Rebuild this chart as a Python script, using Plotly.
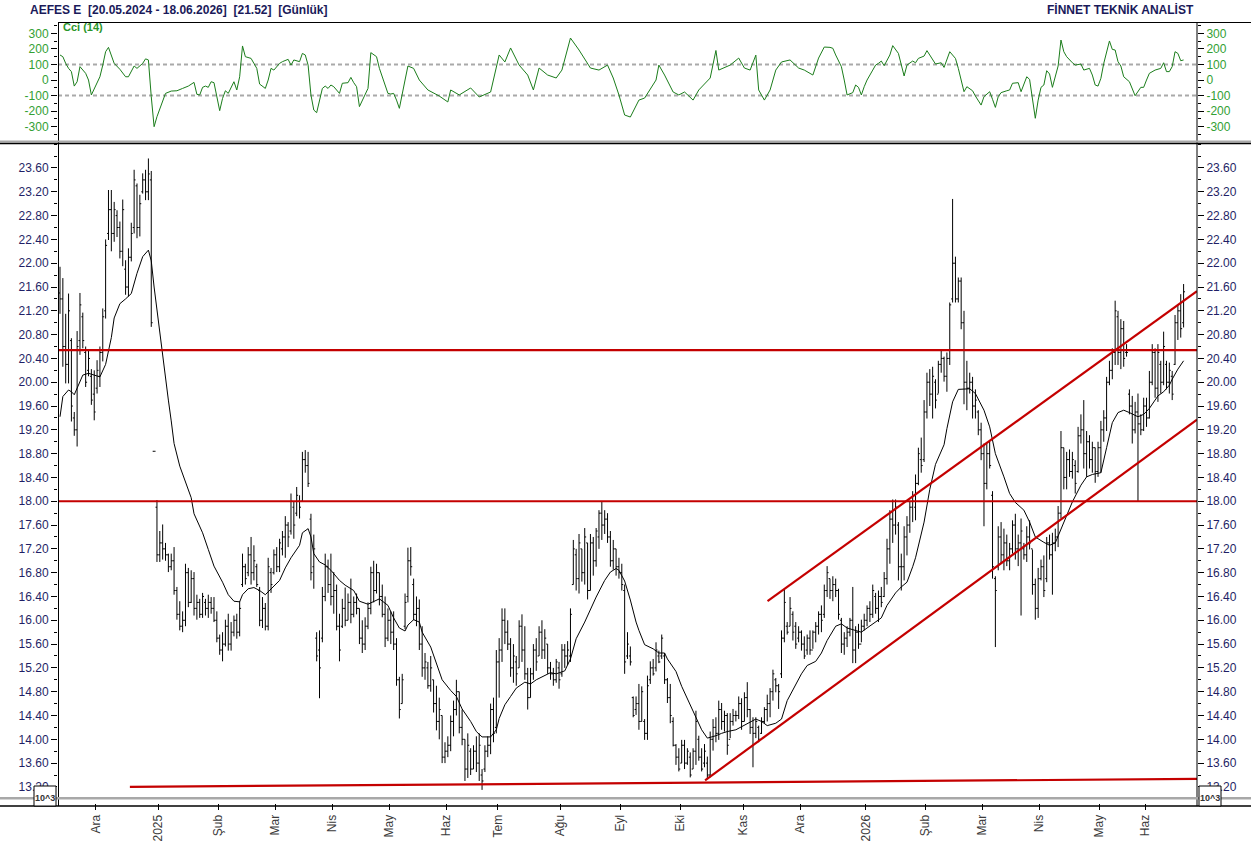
import plotly.graph_objects as go

# ------------------------------------------------------------------ data
title_left = "AEFES E\u00a0\u00a0[20.05.2024 - 18.06.2026]\u00a0\u00a0[21.52]\u00a0\u00a0[Günlük]"
title_right = "FİNNET TEKNİK ANALİST"
cci_label = "Cci (14)"

month_labels = ["Ara", "2025", "Şub", "Mar", "Nis", "May", "Haz", "Tem", "Ağu", "Eyl",
                "Eki", "Kas", "Ara", "2026", "Şub", "Mar", "Nis", "May", "Haz"]
# index of the first session of each month
month_start_bar = [13, 35, 56, 76, 96, 116, 136, 154, 176, 197,
                   218, 240, 260, 283, 304, 324, 344, 365, 381]

price_ticks = [13.20, 13.60, 14.00, 14.40, 14.80, 15.20, 15.60, 16.00, 16.40, 16.80,
               17.20, 17.60, 18.00, 18.40, 18.80, 19.20, 19.60, 20.00, 20.40, 20.80,
               21.20, 21.60, 22.00, 22.40, 22.80, 23.20, 23.60]
cci_ticks = [-300, -200, -100, 0, 100, 200, 300]
cci_levels = [100, -100]

high = [
    21.94, 21.75, 21.15, 21.49, 20.74, 19.50, 20.86, 21.50, 21.17, 20.60,
    20.54, 20.22, 20.20, 20.37, 20.60, 21.24, 22.40, 23.23, 23.23, 23.03,
    22.89, 22.70, 23.07, 22.05, 22.25, 22.68, 23.57, 23.34, 23.15, 23.51,
    23.57, 23.76, 23.55, 18.84, 18.02, 17.50, 17.61, 17.30, 17.12, 17.12,
    17.23, 16.56, 16.32, 16.15, 16.95, 16.88, 16.84, 16.81, 16.43, 16.36,
    16.46, 16.36, 16.43, 16.39, 16.39, 16.15, 15.76, 15.80, 16.01, 16.11,
    15.97, 16.08, 16.11, 16.32, 17.12, 16.95, 17.23, 17.40, 17.26, 16.95,
    16.56, 16.39, 16.29, 17.05, 16.88, 17.19, 17.23, 17.37, 17.50, 17.75,
    17.65, 18.13, 17.99, 18.24, 18.10, 18.83, 18.86, 18.83, 17.79, 17.44,
    15.80, 15.83, 16.56, 17.12, 17.02, 17.12, 16.81, 16.60, 16.11, 16.36,
    16.55, 16.45, 16.70, 16.40, 16.45, 16.20, 16.00, 16.05, 16.30, 16.90,
    17.00, 16.95, 16.80, 16.60, 16.40, 16.20, 16.15, 16.15, 15.70, 15.05,
    15.10, 16.45, 17.22, 17.23, 16.70, 16.40, 16.35, 15.90, 15.45, 15.30,
    15.40, 15.00, 14.90, 14.70, 14.40, 13.95, 14.05, 14.40, 14.65, 15.00,
    14.80, 14.50, 14.00, 14.10, 13.85, 13.90, 14.05, 14.10, 13.50, 13.90,
    14.05, 14.60, 14.70, 15.50, 15.70, 16.20, 16.20, 16.00, 15.70, 15.60,
    15.40, 16.00, 16.10, 15.90, 15.20, 15.20, 15.60, 15.70, 15.90, 16.00,
    15.85, 15.60, 15.30, 15.20, 15.35, 15.30, 15.60, 15.60, 15.65, 16.20,
    17.35, 17.20, 17.45, 17.20, 17.55, 17.30, 17.45, 17.40, 17.55, 17.85,
    18.00, 17.85, 17.80, 17.50, 17.35, 17.20, 17.05, 16.95, 16.60, 15.80,
    15.56, 14.72, 14.72, 14.93, 14.89, 14.34, 15.07, 15.31, 15.35, 15.63,
    15.49, 15.76, 15.45, 15.03, 14.93, 14.37, 13.92, 13.85, 13.99, 13.99,
    13.85, 13.78, 13.85, 14.48, 14.06, 13.85, 13.92, 13.71, 14.13, 14.34,
    14.37, 14.65, 14.61, 14.48, 14.44, 14.44, 14.51, 14.48, 14.72, 14.69,
    14.79, 14.96, 14.51, 14.37, 14.37, 14.23, 14.37, 14.54, 14.75, 14.86,
    15.17, 15.03, 14.93, 15.83, 16.53, 15.97, 16.39, 16.15, 15.97, 15.90,
    15.83, 15.73, 15.76, 15.83, 15.83, 15.97, 16.15, 16.25, 16.60, 16.91,
    16.70, 16.74, 16.70, 16.53, 16.04, 15.80, 15.90, 16.04, 16.56, 15.90,
    15.94, 16.01, 16.11, 16.25, 16.32, 16.60, 16.46, 16.50, 16.56, 16.81,
    17.37, 17.85, 18.03, 18.03, 17.65, 17.12, 17.58, 17.75, 17.99, 18.17,
    18.45, 18.90, 19.07, 19.70, 20.16, 20.22, 20.26, 20.05, 20.36, 20.54,
    20.43, 20.50, 21.34, 23.08, 22.11, 21.76, 21.76, 21.20, 20.36, 20.16,
    20.09, 19.88, 19.53, 19.32, 18.97, 18.97, 19.00, 18.17, 16.74, 17.58,
    17.65, 17.54, 17.44, 17.30, 17.68, 17.79, 17.44, 17.71, 17.30, 17.58,
    17.68, 17.19, 16.70, 16.88, 17.02, 17.09, 17.40, 17.44, 17.47, 17.54,
    17.92, 19.18, 18.90, 18.83, 18.87, 18.83, 18.69, 19.25, 19.46, 19.70,
    19.18, 19.11, 19.00, 18.90, 19.00, 19.35, 19.53, 20.09, 20.36, 20.57,
    21.37, 21.20, 21.06, 21.03, 20.64, 19.88, 19.77, 19.67, 19.81, 19.46,
    19.74, 19.74, 20.19, 20.64, 20.57, 20.64, 20.36, 20.85, 20.36, 20.33,
    20.19, 21.13, 21.30, 21.48, 21.65,
]

low = [
    21.15, 20.26, 19.98, 19.98, 19.34, 19.10, 18.92, 20.46, 20.57, 19.92,
    20.10, 19.62, 19.36, 19.81, 19.92, 20.35, 21.07, 22.39, 22.20, 22.36,
    22.44, 22.08, 21.95, 21.47, 21.44, 22.03, 22.50, 22.42, 22.45, 23.17,
    23.06, 23.06, 20.93, 18.84, 16.98, 16.98, 17.02, 17.00, 16.81, 16.84,
    16.43, 16.01, 15.83, 15.80, 15.90, 16.22, 16.29, 16.08, 16.01, 16.04,
    16.04, 16.08, 16.04, 16.11, 15.97, 15.63, 15.42, 15.31, 15.56, 15.49,
    15.49, 15.73, 15.69, 15.73, 16.56, 16.60, 16.74, 16.60, 16.67, 16.56,
    15.90, 15.87, 15.83, 15.83, 16.46, 16.77, 16.81, 16.81, 17.09, 17.05,
    17.23, 17.44, 17.37, 17.75, 17.71, 17.99, 18.48, 18.24, 16.67, 16.53,
    15.31, 14.69, 15.63, 16.32, 16.46, 16.25, 16.11, 15.83, 15.31, 15.87,
    15.90, 16.00, 15.95, 16.05, 16.10, 15.60, 15.45, 15.50, 15.85, 16.10,
    16.30, 16.45, 16.25, 16.05, 15.55, 15.65, 15.60, 15.50, 14.90, 14.35,
    14.60, 15.85, 16.30, 16.75, 16.00, 15.90, 15.50, 15.05, 15.00, 14.85,
    14.80, 14.45, 14.15, 14.00, 13.60, 13.60, 13.70, 13.80, 14.05, 14.40,
    14.10, 13.90, 13.30, 13.35, 13.40, 13.50, 13.45, 13.30, 13.15, 13.45,
    13.70, 13.75, 13.95, 14.10, 14.70, 15.30, 15.60, 15.50, 15.05, 14.95,
    14.90, 15.20, 15.30, 15.00, 14.50, 14.70, 15.00, 15.15, 15.40, 15.35,
    15.35, 15.10, 15.00, 14.90, 14.95, 14.85, 15.05, 15.20, 15.25, 15.30,
    16.60, 16.50, 16.45, 16.65, 16.60, 16.35, 16.50, 16.75, 16.90, 17.20,
    17.35, 17.45, 17.30, 16.90, 16.85, 16.75, 16.70, 16.50, 15.10, 15.35,
    15.24, 14.37, 14.41, 14.16, 14.30, 13.99, 13.99, 14.93, 15.07, 15.14,
    15.28, 15.35, 14.93, 14.61, 14.27, 13.88, 13.57, 13.46, 13.60, 13.50,
    13.57, 13.36, 13.50, 13.57, 13.64, 13.46, 13.53, 13.33, 13.36, 13.81,
    13.95, 13.99, 14.16, 14.13, 13.74, 14.02, 14.23, 14.30, 14.34, 14.16,
    14.30, 14.37, 14.09, 13.53, 14.02, 13.95, 14.09, 14.27, 14.30, 14.37,
    14.65, 14.79, 14.51, 15.03, 15.63, 15.76, 15.90, 15.66, 15.52, 15.63,
    15.49, 15.35, 15.42, 15.42, 15.52, 15.63, 15.76, 15.80, 16.04, 16.39,
    16.36, 16.32, 16.39, 16.01, 15.45, 15.42, 15.55, 15.73, 15.28, 15.28,
    15.52, 15.63, 15.83, 15.90, 15.97, 16.04, 16.11, 15.97, 16.22, 16.39,
    16.60, 16.95, 17.30, 17.44, 16.67, 16.50, 16.67, 17.09, 17.47, 17.65,
    17.68, 18.27, 18.48, 18.66, 19.39, 19.60, 19.39, 19.56, 19.81, 20.16,
    20.01, 19.84, 20.29, 21.34, 21.34, 21.34, 20.89, 19.63, 19.53, 19.81,
    19.39, 19.39, 19.11, 18.69, 17.58, 18.20, 18.55, 16.70, 15.55, 16.84,
    16.95, 16.84, 16.91, 16.84, 17.12, 17.02, 16.91, 16.08, 17.02, 16.98,
    17.19, 16.43, 16.01, 16.04, 16.67, 16.39, 16.64, 17.02, 16.43, 17.16,
    17.23, 17.71, 18.20, 18.20, 18.41, 18.38, 18.13, 18.48, 18.97, 18.55,
    18.41, 18.55, 18.48, 18.31, 18.41, 18.48, 19.00, 19.18, 19.95, 20.05,
    20.29, 20.29, 20.22, 20.26, 20.43, 19.46, 18.97, 19.14, 17.99, 19.11,
    19.18, 19.25, 19.39, 19.95, 19.74, 19.67, 19.81, 19.95, 19.88, 19.81,
    19.70, 20.29, 20.71, 20.75, 20.92,
]

open_ = [
    21.5, 21.4, 20.6, 20.3, 20.7, 19.4, 19.2, 20.7, 21.1, 20.5,
    20.2, 20.1, 19.8, 19.9, 20.1, 20.5, 21.2, 22.5, 22.9, 22.5,
    22.8, 22.6, 22.2, 21.9, 21.6, 22.1, 22.6, 23.3, 22.6, 23.2,
    23.4, 23.2, 23.4, 18.84, 17.9, 17.1, 17.3, 17.2, 17.1, 16.9,
    17.0, 16.5, 16.1, 15.9, 16.0, 16.8, 16.3, 16.7, 16.2, 16.3,
    16.1, 16.3, 16.2, 16.3, 16.2, 16.0, 15.7, 15.5, 15.6, 15.9,
    15.6, 15.8, 16.0, 15.8, 16.6, 16.9, 16.8, 17.1, 16.8, 16.9,
    16.5, 16.0, 16.2, 15.9, 16.8, 16.8, 17.1, 16.9, 17.2, 17.4,
    17.6, 17.5, 17.9, 17.8, 18.0, 18.0, 18.7, 18.6, 17.7, 16.9,
    15.7, 15.5, 15.7, 16.4, 16.9, 16.6, 16.4, 16.5, 15.9, 15.9,
    16.2, 16.0, 16.3, 16.1, 16.3, 16.2, 15.7, 15.6, 15.9, 16.2,
    16.8, 16.5, 16.8, 16.4, 16.1, 15.7, 16.0, 15.8, 15.6, 15.0,
    14.6, 15.9, 16.4, 17.0, 16.6, 16.1, 16.2, 15.6, 15.2, 15.2,
    14.9, 15.0, 14.6, 14.3, 14.4, 13.7, 13.8, 13.9, 14.3, 14.5,
    14.8, 14.2, 14.0, 13.5, 13.8, 13.5, 13.8, 13.6, 13.4, 13.5,
    13.8, 13.9, 14.5, 14.2, 15.3, 15.5, 16.0, 15.8, 15.6, 15.2,
    15.3, 15.2, 15.9, 15.5, 15.1, 14.7, 15.1, 15.5, 15.4, 15.8,
    15.5, 15.6, 15.2, 15.1, 15.0, 15.2, 15.1, 15.5, 15.4, 15.4,
    16.6, 17.1, 16.7, 17.2, 16.8, 17.3, 16.5, 17.3, 17.0, 17.4,
    17.8, 17.6, 17.7, 17.4, 17.0, 17.2, 16.9, 16.8, 16.5, 15.4,
    15.4, 14.7, 14.5, 14.6, 14.3, 14.3, 14.1, 15.0, 15.2, 15.2,
    15.4, 15.4, 15.4, 15.0, 14.7, 14.3, 13.9, 13.7, 13.6, 13.9,
    13.6, 13.7, 13.5, 13.8, 14.0, 13.7, 13.6, 13.6, 13.4, 14.0,
    14.2, 14.1, 14.5, 14.3, 14.4, 14.0, 14.3, 14.4, 14.4, 14.6,
    14.3, 14.7, 14.5, 14.2, 14.1, 14.2, 14.1, 14.3, 14.5, 14.6,
    14.8, 15.0, 14.9, 15.1, 15.7, 15.9, 15.9, 16.1, 15.9, 15.7,
    15.8, 15.6, 15.5, 15.7, 15.5, 15.8, 15.9, 16.1, 16.1, 16.5,
    16.7, 16.5, 16.6, 16.5, 16.0, 15.6, 15.7, 15.8, 16.0, 15.5,
    15.8, 15.6, 15.9, 16.0, 16.2, 16.1, 16.4, 16.2, 16.4, 16.4,
    16.7, 17.2, 17.7, 17.6, 17.6, 16.9, 16.9, 17.4, 17.6, 17.9,
    17.9, 18.3, 18.7, 18.7, 19.5, 20.0, 19.8, 20.0, 19.8, 20.3,
    20.4, 20.1, 20.4, 21.4, 22.0, 21.4, 21.7, 21.0, 20.0, 19.9,
    20.0, 19.6, 19.5, 19.2, 18.8, 18.3, 18.8, 18.1, 16.7, 16.9,
    17.4, 17.1, 17.3, 17.0, 17.2, 17.6, 17.2, 17.3, 17.2, 17.1,
    17.4, 17.2, 16.6, 16.2, 16.7, 16.9, 16.7, 17.3, 17.1, 17.3,
    17.4, 17.8, 18.9, 18.4, 18.7, 18.5, 18.6, 18.5, 19.1, 19.2,
    18.8, 19.0, 18.7, 18.9, 18.5, 18.9, 19.2, 19.4, 20.0, 20.2,
    20.5, 21.1, 20.5, 20.9, 20.5, 19.8, 19.6, 19.2, 19.5, 19.3,
    19.2, 19.6, 19.4, 20.0, 20.5, 19.9, 20.3, 20.0, 20.3, 20.0,
    20.1, 20.3, 21.0, 21.2, 21.0,
]

close = [
    21.4, 20.6, 20.3, 21.2, 19.6, 19.2, 20.6, 21.3, 20.7, 20.0,
    20.4, 19.7, 19.5, 20.2, 20.5, 21.1, 22.3, 22.9, 22.5, 22.9,
    22.6, 22.2, 22.9, 21.6, 22.1, 22.5, 23.4, 22.6, 23.0, 23.4,
    23.2, 23.5, 21.0, 18.84, 17.1, 17.3, 17.2, 17.1, 16.9, 17.0,
    16.5, 16.1, 15.9, 16.0, 16.8, 16.3, 16.7, 16.2, 16.3, 16.1,
    16.4, 16.2, 16.3, 16.2, 16.0, 15.7, 15.5, 15.6, 15.9, 15.6,
    15.8, 16.0, 15.8, 16.2, 16.9, 16.7, 17.1, 16.8, 17.0, 16.6,
    16.0, 16.2, 15.9, 16.9, 16.6, 17.1, 16.9, 17.3, 17.4, 17.6,
    17.4, 18.0, 17.6, 18.1, 17.9, 18.7, 18.6, 18.3, 16.8, 17.2,
    15.4, 15.2, 16.4, 16.9, 16.6, 16.4, 16.5, 15.9, 15.5, 16.2,
    16.0, 16.3, 16.1, 16.3, 16.2, 15.7, 15.6, 15.9, 16.2, 16.8,
    16.5, 16.8, 16.4, 16.1, 15.7, 16.0, 15.8, 15.6, 15.0, 14.5,
    15.0, 16.3, 17.0, 16.9, 16.1, 16.2, 15.6, 15.2, 15.3, 14.9,
    15.2, 14.6, 14.3, 14.5, 13.7, 13.8, 13.9, 14.3, 14.5, 14.8,
    14.2, 14.0, 13.5, 13.9, 13.5, 13.8, 13.6, 13.9, 13.3, 13.8,
    13.9, 14.5, 14.1, 15.3, 15.5, 16.0, 15.8, 15.6, 15.2, 15.4,
    15.1, 15.9, 15.5, 15.1, 14.7, 15.1, 15.5, 15.3, 15.8, 15.5,
    15.7, 15.2, 15.1, 15.0, 15.3, 15.0, 15.5, 15.4, 15.5, 16.1,
    17.2, 16.7, 17.3, 16.8, 17.4, 16.5, 17.3, 17.0, 17.5, 17.8,
    17.6, 17.7, 17.4, 17.0, 17.2, 16.9, 16.8, 16.6, 15.3, 15.6,
    15.3, 14.4, 14.6, 14.3, 14.8, 14.1, 14.9, 15.2, 15.1, 15.5,
    15.3, 15.7, 15.0, 14.7, 14.4, 13.9, 13.7, 13.5, 13.9, 13.6,
    13.8, 13.4, 13.8, 14.3, 13.7, 13.5, 13.8, 13.4, 14.0, 14.2,
    14.1, 14.5, 14.3, 14.4, 13.9, 14.3, 14.4, 14.4, 14.6, 14.3,
    14.7, 14.5, 14.2, 14.1, 14.3, 14.0, 14.3, 14.5, 14.6, 14.8,
    15.1, 14.9, 14.8, 15.7, 16.3, 15.8, 16.2, 15.8, 15.6, 15.8,
    15.6, 15.4, 15.7, 15.5, 15.8, 15.9, 16.1, 16.0, 16.5, 16.8,
    16.5, 16.6, 16.5, 16.1, 15.6, 15.7, 15.8, 16.0, 15.5, 15.8,
    15.6, 15.9, 16.0, 16.2, 16.1, 16.5, 16.2, 16.4, 16.3, 16.7,
    17.2, 17.7, 17.6, 17.9, 16.9, 16.9, 17.4, 17.6, 17.9, 18.0,
    18.3, 18.8, 18.6, 19.5, 20.0, 19.8, 20.1, 19.7, 20.3, 20.4,
    20.1, 20.4, 21.3, 22.0, 21.4, 21.7, 21.0, 20.0, 19.9, 20.0,
    19.6, 19.7, 19.2, 18.8, 18.3, 18.8, 18.6, 16.9, 16.5, 17.4,
    17.1, 17.3, 17.0, 17.2, 17.6, 17.2, 17.3, 17.5, 17.1, 17.4,
    17.3, 16.6, 16.2, 16.7, 16.9, 16.5, 17.3, 17.1, 17.3, 17.4,
    17.8, 18.9, 18.4, 18.7, 18.5, 18.7, 18.3, 19.1, 19.2, 18.8,
    19.0, 18.7, 18.9, 18.5, 18.9, 19.2, 19.4, 20.0, 20.2, 20.5,
    21.2, 20.5, 20.9, 20.4, 20.5, 19.6, 19.2, 19.5, 19.3, 19.2,
    19.6, 19.4, 20.0, 20.5, 19.9, 20.5, 20.0, 20.6, 20.0, 20.2,
    19.8, 21.0, 21.2, 20.9, 21.52,
]

# moving average (session index, value)
ma_points = [
    (0, 19.42), (1, 19.76), (3, 19.87), (4, 19.84), (5, 19.79), (6, 19.90), (8, 20.12),
    (10, 20.15), (12, 20.12), (14, 20.09), (16, 20.30), (18, 20.75), (19, 21.08), (21, 21.32),
    (23, 21.40), (25, 21.49), (27, 21.83), (29, 22.11), (31, 22.22), (32, 22.04), (33, 21.60),
    (35, 20.80), (37, 20.09), (38, 19.70), (39, 19.35), (40, 18.97), (42, 18.59), (44, 18.34),
    (46, 18.06), (47, 17.79), (50, 17.47), (52, 17.19), (54, 16.91), (57, 16.64), (59, 16.43),
    (61, 16.32), (63, 16.31), (64, 16.43), (66, 16.53), (68, 16.55), (70, 16.50), (72, 16.43),
    (74, 16.53), (77, 16.67), (79, 16.88), (81, 17.05), (84, 17.26), (85, 17.47), (87, 17.54),
    (88, 17.40), (89, 17.12), (91, 16.98), (93, 16.93), (95, 16.84), (98, 16.67), (100, 16.59),
    (103, 16.50), (105, 16.32), (108, 16.27), (110, 16.32), (112, 16.36), (115, 16.25),
    (117, 16.04), (119, 15.87), (121, 15.82), (122, 15.92), (124, 16.01), (126, 15.97),
    (127, 15.80), (130, 15.55), (132, 15.28), (134, 15.00), (137, 14.82), (139, 14.72),
    (141, 14.51), (144, 14.30), (146, 14.13), (148, 14.04), (151, 14.04), (153, 14.16),
    (154, 14.35), (156, 14.58), (158, 14.72), (160, 14.86), (163, 14.96), (165, 14.93),
    (167, 15.00), (170, 15.07), (172, 15.12), (174, 15.10), (177, 15.15), (179, 15.35),
    (181, 15.69), (184, 15.97), (186, 16.18), (188, 16.39), (191, 16.67), (193, 16.81),
    (195, 16.87), (196, 16.84), (198, 16.66), (200, 16.34), (202, 15.97), (203, 15.83),
    (205, 15.59), (208, 15.52), (210, 15.45), (212, 15.45), (213, 15.35), (216, 15.14),
    (218, 14.89), (220, 14.68), (223, 14.34), (225, 14.16), (227, 14.02), (230, 14.06),
    (232, 14.10), (234, 14.13), (237, 14.16), (239, 14.21), (241, 14.27), (244, 14.34),
    (246, 14.30), (248, 14.23), (251, 14.27), (253, 14.34), (255, 14.65), (258, 14.93),
    (260, 15.10), (262, 15.24), (265, 15.31), (267, 15.45), (269, 15.66), (272, 15.90),
    (274, 15.94), (276, 15.87), (279, 15.83), (281, 15.80), (283, 15.87), (286, 15.97),
    (288, 16.04), (290, 16.25), (293, 16.46), (295, 16.56), (297, 16.64), (299, 16.90),
    (300, 17.05), (303, 17.65), (305, 18.20), (307, 18.62), (310, 18.95), (311, 19.22),
    (313, 19.67), (315, 19.88), (317, 19.88), (319, 19.89), (321, 19.81), (324, 19.53),
    (326, 19.25), (328, 18.80), (331, 18.41), (333, 18.13), (335, 17.98), (338, 17.85),
    (340, 17.65), (342, 17.40), (345, 17.31), (347, 17.26), (349, 17.30), (351, 17.54),
    (353, 17.75), (355, 17.99), (358, 18.27), (360, 18.41), (362, 18.45), (365, 18.48),
    (367, 18.90), (369, 19.32), (371, 19.49), (373, 19.53), (375, 19.49), (378, 19.42),
    (380, 19.46), (382, 19.56), (385, 19.77), (387, 19.84), (389, 19.95), (390, 20.05),
    (392, 20.22), (394, 20.36),
]

# CCI(14) (session index, value)
cci_points = [
    (0, 161), (1, 150), (2, 107), (3, 75), (4, 54), (5, -39), (6, -11), (7, 86), (9, 43),
    (10, 0), (11, -96), (12, -54), (14, 21), (15, 96), (16, 182), (17, 210), (18, 161),
    (19, 107), (21, 69), (23, 21), (24, 21), (25, 54), (26, 90), (27, 75), (29, 107),
    (30, 136), (31, 129), (32, -107), (33, -300), (34, -236), (36, -129), (37, -86),
    (39, -71), (41, -69), (43, -54), (44, -47), (45, -39), (47, -15), (48, -92), (49, -96),
    (50, -47), (51, -39), (52, -47), (53, -11), (54, -17), (56, -197), (57, -118), (58, -69),
    (59, -86), (61, -11), (62, -64), (63, 21), (64, 219), (65, 150), (67, 139), (68, 107),
    (69, 75), (70, -26), (72, -54), (73, 0), (74, 75), (75, 64), (77, 107), (78, 118),
    (80, 133), (81, 96), (82, 129), (84, 118), (85, 171), (86, 161), (87, 96), (88, -96),
    (89, -193), (90, -210), (92, -54), (93, -39), (94, -54), (95, -32), (96, -43), (98, -86),
    (99, -21), (101, -17), (102, 17), (103, -17), (104, -43), (105, -171), (107, -90),
    (108, -54), (109, 176), (111, 150), (112, 75), (113, 17), (115, -86), (116, -90),
    (117, -86), (118, -129), (119, -182), (121, 0), (122, 90), (124, 75), (126, 0),
    (129, -64), (133, -103), (136, -141), (137, -64), (140, -96), (144, -51), (147, -109),
    (151, -77), (154, 161), (156, 116), (158, 206), (161, 96), (164, 32), (166, -64),
    (168, 77), (171, 32), (174, 13), (176, 64), (179, 270), (182, 193), (186, 77), (189, 64),
    (192, 96), (194, 13), (196, -96), (198, -225), (200, -238), (203, -129), (205, -116),
    (209, 0), (210, 96), (212, 32), (215, -77), (217, -96), (219, -77), (222, -129),
    (224, -64), (228, 13), (230, 190), (231, 64), (235, 96), (238, 141), (240, 77), (242, 64),
    (244, 160), (245, -64), (247, -129), (249, -64), (251, 64), (253, 116), (256, 129),
    (259, 77), (261, 64), (264, 32), (266, 141), (268, 212),
    (270, 210), (271, 204), (272, 161), (274, 86), (275, 0), (276, -96), (278, -81),
    (279, -32), (280, -47), (281, -96), (282, -43), (283, 0), (285, 64), (286, 96),
    (287, 107), (288, 122), (289, 92), (291, 161), (292, 221), (294, 171), (296, 26),
    (297, 96), (299, 122), (300, 111), (301, 139), (303, 154), (304, 189), (306, 129),
    (307, 103), (309, 111), (310, 81), (312, 182), (314, 139), (315, 75), (316, 0),
    (317, -75), (318, -43), (320, -69), (321, -103), (323, -161), (324, -107), (326, -75),
    (327, -124), (328, -176), (329, -107), (330, -81), (332, -69), (333, -64), (334, -21),
    (336, -17), (337, -75), (338, -32), (339, 21), (340, 4), (342, -246), (343, -129),
    (344, -47), (345, -32), (346, 60), (347, 39), (348, -47), (350, 90), (351, 257),
    (352, 182), (353, 150), (355, 111), (356, 96), (358, 103), (359, 64), (361, 75),
    (362, 32), (363, -32), (364, -39), (365, 11), (366, 107), (368, 251), (369, 197),
    (370, 193), (371, 118), (372, 90), (373, 21), (375, -11), (376, -54), (377, -101),
    (379, -47), (380, -47), (381, 0), (382, 43), (384, 64), (385, 69), (386, 75), (387, 111),
    (388, 54), (389, 54), (390, 86), (391, 182), (392, 171), (393, 124), (394, 129),
]

# drawn analysis lines: horizontal levels and trend lines (session, price) -> (session, price)
level_lines = [20.54, 18.00]
trend_lines = [
    ((24.5, 13.20), (398.7, 13.335)),   # long support
    ((226.2, 13.31), (398.7, 19.37)),   # lower channel
    ((248.1, 16.32), (398.7, 21.53)),   # upper channel
]

# ------------------------------------------------------------------ figure
assert len(high) == len(low) == len(open_) == len(close)
N = len(high)
bars = list(range(N))
X_RANGE = [-0.7, 398.7]

NAVY = "#1f1f66"
GREEN_TXT = "#33a033"
CCI_LINE = "#1b7d1b"
RED = "#c40000"
FONT = "Liberation Sans, Arial, sans-serif"

fig = go.Figure()

fig.add_trace(go.Ohlc(
    x=bars, open=open_, high=high, low=low, close=close,
    xaxis="x", yaxis="y", tickwidth=0.5,
    increasing=dict(line=dict(color="black", width=1)),
    decreasing=dict(line=dict(color="black", width=1)),
    hoverinfo="skip", showlegend=False))

ma_bar = [p[0] for p in ma_points]
ma_val = [p[1] for p in ma_points]
fig.add_trace(go.Scatter(x=ma_bar, y=ma_val, mode="lines", xaxis="x", yaxis="y",
                         line=dict(color="black", width=1), hoverinfo="skip", showlegend=False))

for (a, b) in trend_lines:
    fig.add_trace(go.Scatter(x=[a[0], b[0]], y=[a[1], b[1]], mode="lines", xaxis="x", yaxis="y",
                             line=dict(color=RED, width=2.2), hoverinfo="skip", showlegend=False))

cci_bar = [p[0] for p in cci_points]
cci_val = [p[1] for p in cci_points]
fig.add_trace(go.Scatter(x=cci_bar, y=cci_val, mode="lines", xaxis="x2", yaxis="y2",
                         line=dict(color=CCI_LINE, width=1), hoverinfo="skip", showlegend=False))

# placeholders so the mirrored right-hand axes are drawn
fig.add_trace(go.Scatter(x=[None], y=[None], xaxis="x", yaxis="y3", showlegend=False, hoverinfo="skip"))
fig.add_trace(go.Scatter(x=[None], y=[None], xaxis="x2", yaxis="y4", showlegend=False, hoverinfo="skip"))

# geometry helpers (pixel -> paper)
PL, PR, PT, PB = 58, 1197, 22, 806
def px(xp):
    return (xp - PL) / (PR - PL)
def py(yp):
    return (PB - yp) / (PB - PT)

main_dom = [py(800), py(143)]
cci_dom = [py(141), 1.0]

price_tick_text = ["%.2f" % v for v in price_ticks]
cci_tick_text = [str(v) for v in cci_ticks]
month_tickvals = [m - 0.5 for m in month_start_bar]

yax_common = dict(range=[12.98, 24.02], tickvals=price_ticks, ticktext=price_tick_text,
                  ticks="outside", ticklen=6, tickcolor="black", tickwidth=1,
                  tickfont=dict(family=FONT, size=12, color=NAVY),
                  minor=dict(dtick=0.2, tick0=13.0, ticks="outside", ticklen=3, tickcolor="black"),
                  showgrid=False, zeroline=False, showline=False, fixedrange=True,
                  automargin=False)
cax_common = dict(range=[-392, 373], tickvals=cci_ticks, ticktext=cci_tick_text,
                  ticks="outside", ticklen=6, tickcolor="black", tickwidth=1,
                  tickfont=dict(family=FONT, size=12, color=GREEN_TXT),
                  minor=dict(dtick=50, tick0=0, ticks="outside", ticklen=3, tickcolor="black"),
                  showgrid=False, zeroline=False, showline=False, fixedrange=True,
                  automargin=False)

shapes = []
# CCI reference levels
for lv in cci_levels:
    shapes.append(dict(type="line", xref="paper", yref="y2", x0=0, x1=1, y0=lv, y1=lv,
                       line=dict(color="#a9a9a9", width=2, dash="4px,3px"), layer="below"))
# horizontal price levels
for lv in level_lines:
    shapes.append(dict(type="line", xref="paper", yref="y", x0=0, x1=1, y0=lv, y1=lv,
                       line=dict(color=RED, width=2.2), layer="above"))
# frames
shapes += [
    dict(type="line", xref="paper", yref="paper", x0=px(PL), x1=px(1251), y0=py(22.5), y1=py(22.5),
         line=dict(color="black", width=1)),
    dict(type="line", xref="paper", yref="paper", x0=px(58.5), x1=px(58.5), y0=py(22), y1=py(806),
         line=dict(color="black", width=1)),
    dict(type="line", xref="paper", yref="paper", x0=px(1197), x1=px(1197), y0=py(22), y1=py(806),
         line=dict(color="black", width=1)),
    dict(type="rect", xref="paper", yref="paper", x0=px(0), x1=px(1251), y0=py(140.5), y1=py(142.5),
         fillcolor="#a8a8a8", line=dict(width=0)),
    dict(type="line", xref="paper", yref="paper", x0=px(0), x1=px(1251), y0=py(143.5), y1=py(143.5),
         line=dict(color="black", width=1.5)),
    dict(type="rect", xref="paper", yref="paper", x0=px(0), x1=px(1251), y0=py(797), y1=py(799.5),
         fillcolor="#a8a8a8", line=dict(width=0)),
    dict(type="line", xref="paper", yref="paper", x0=px(0), x1=px(1251), y0=py(806), y1=py(806),
         line=dict(color="black", width=1.5)),
    # scale boxes
    dict(type="rect", xref="paper", yref="paper", x0=px(34), x1=px(56), y0=py(786), y1=py(806),
         fillcolor="white", line=dict(color="black", width=1), layer="above"),
    dict(type="rect", xref="paper", yref="paper", x0=px(1199), x1=px(1221), y0=py(786), y1=py(806),
         fillcolor="white", line=dict(color="black", width=1), layer="above"),
]

annotations = [
    dict(text="<b>%s</b>" % title_left, xref="paper", yref="paper", x=px(28), y=py(10),
         xanchor="left", yanchor="middle", showarrow=False,
         font=dict(family=FONT, size=12, color="#1a1a5a")),
    dict(text="<b>%s</b>" % title_right, xref="paper", yref="paper", x=px(1196), y=py(10),
         xanchor="right", yanchor="middle", showarrow=False,
         font=dict(family=FONT, size=12, color="#1a1a5a")),
    dict(text="<b>%s</b>" % cci_label, xref="paper", yref="paper", x=px(61), y=py(27.5),
         xanchor="left", yanchor="middle", showarrow=False,
         font=dict(family=FONT, size=11, color="#2a962a")),
    dict(text="<b>10^3</b>", xref="paper", yref="paper", x=px(45), y=py(798),
         xanchor="center", yanchor="middle", showarrow=False,
         font=dict(family=FONT, size=9, color="#333333")),
    dict(text="<b>10^3</b>", xref="paper", yref="paper", x=px(1210), y=py(798),
         xanchor="center", yanchor="middle", showarrow=False,
         font=dict(family=FONT, size=9, color="#333333")),
]

fig.update_layout(
    width=1251, height=841,
    margin=dict(l=PL, r=1251 - PR, t=PT, b=841 - PB, autoexpand=False),
    paper_bgcolor="white", plot_bgcolor="white", showlegend=False,
    font=dict(family=FONT, size=12),
    xaxis=dict(domain=[0, 1], anchor="free", position=py(803), range=X_RANGE,
               tickvals=month_tickvals, ticktext=month_labels, tickangle=-90,
               ticks="outside", ticklen=6, tickcolor="black",
               tickfont=dict(family=FONT, size=12, color="#3a3a3a"),
               showgrid=False, zeroline=False, showline=False, automargin=False,
               rangeslider=dict(visible=False), fixedrange=True),
    xaxis2=dict(domain=[0, 1], anchor="y2", matches="x", showticklabels=False, ticks="",
                showgrid=False, zeroline=False, showline=False, fixedrange=True,
                automargin=False),
    yaxis=dict(domain=main_dom, anchor="x", side="left", **yax_common),
    yaxis3=dict(overlaying="y", anchor="x", side="right", matches="y", **yax_common),
    yaxis2=dict(domain=cci_dom, anchor="x2", side="left", **cax_common),
    yaxis4=dict(overlaying="y2", anchor="x2", side="right", matches="y2", **cax_common),
    shapes=shapes,
    annotations=annotations,
)

fig.write_html("out.html", config={"displayModeBar": False})
